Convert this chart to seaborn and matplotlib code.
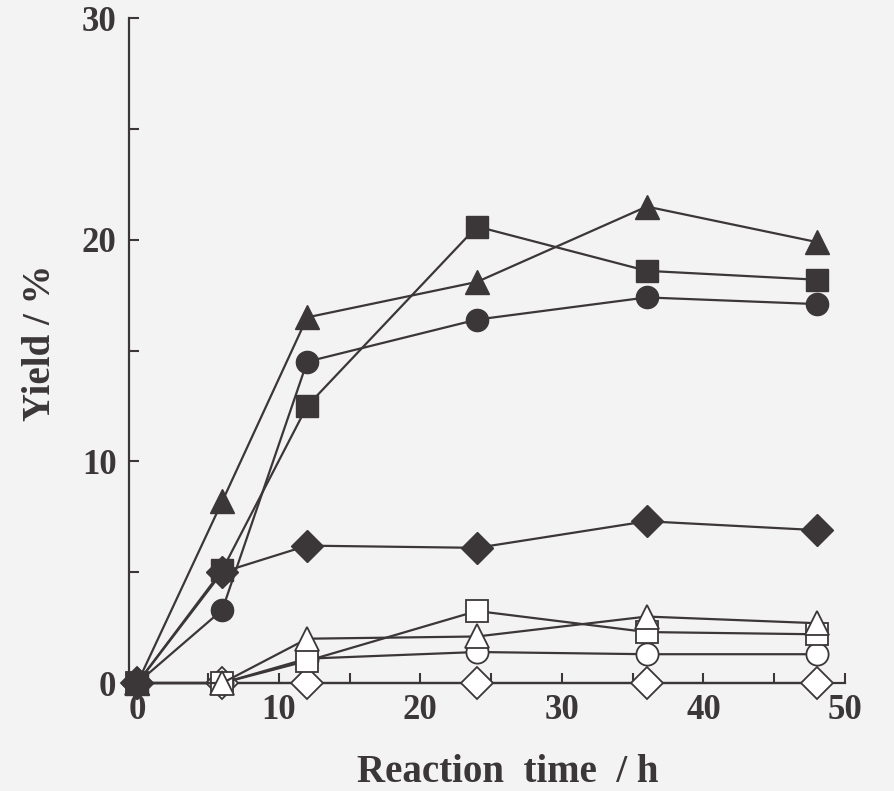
import matplotlib
matplotlib.use("Agg")
import matplotlib.pyplot as plt
import seaborn as sns
import numpy as np

sns.set_style("ticks")
plt.rcParams['font.family'] = ['Liberation Serif', 'DejaVu Serif']

time_h = [0, 6, 12, 24, 36, 48]

filled_triangle = [0, 8.2, 16.5, 18.1, 21.5, 19.9]
filled_square = [0, 5.1, 12.5, 20.6, 18.6, 18.2]
filled_circle = [0, 3.3, 14.5, 16.4, 17.4, 17.1]
filled_diamond = [0, 5.0, 6.2, 6.1, 7.3, 6.9]
open_triangle = [0, 0, 2.0, 2.1, 3.0, 2.7]
open_square = [0, 0, 1.0, 3.25, 2.3, 2.2]
open_circle = [0, 0, 1.1, 1.4, 1.3, 1.3]
open_diamond = [0, 0, 0, 0, 0, 0]

x_ticks = [0, 5, 10, 15, 20, 25, 30, 35, 40, 45, 50]
x_labels = ['0', '', '10', '', '20', '', '30', '', '40', '', '50']
y_ticks = [0, 5, 10, 15, 20, 25, 30]
y_labels = ['0', '', '10', '', '20', '', '30']

ink = '#3b3637'
bg = '#f4f3f3'

series = [
    (open_diamond, 'D', False, 16),
    (open_circle, 'o', False, 16),
    (open_square, 's', False, 16),
    (open_triangle, '^', False, 17),
    (filled_diamond, 'D', True, 16),
    (filled_circle, 'o', True, 16),
    (filled_square, 's', True, 16),
    (filled_triangle, '^', True, 17),
]

fig = plt.figure(figsize=(8.95, 7.91), dpi=100, facecolor=bg)
ax = fig.add_axes([0.144, 0.1365, 0.8, 0.8405])
ax.set_facecolor(bg)

for i, (vals, mk, filled, ms) in enumerate(series):
    sns.lineplot(x=time_h, y=vals, ax=ax, color=ink, linewidth=1.6,
                 marker=mk, markersize=ms,
                 markerfacecolor=ink if filled else 'white',
                 markeredgecolor=ink, markeredgewidth=1.3 if not filled else 1.0,
                 clip_on=False, zorder=3 + i)

ax.set_xlim(-0.6, 50)
ax.set_ylim(0, 30)
ax.set_xticks(x_ticks)
ax.set_xticklabels(x_labels)
ax.set_yticks(y_ticks)
ax.set_yticklabels(y_labels)
ax.tick_params(direction='in', length=7, width=1.5, colors=ink, labelsize=25)
ax.tick_params(axis='x', pad=8)
ax.tick_params(axis='y', pad=9)
for lab in ax.get_xticklabels() + ax.get_yticklabels():
    lab.set_fontweight('bold')
    lab.set_color(ink)
sns.despine(ax=ax)
for s in ['left', 'bottom']:
    ax.spines[s].set_linewidth(1.6)
    ax.spines[s].set_color(ink)

ax.set_xlabel('Reaction  time  / h', fontsize=28, fontweight='bold', color=ink, va='center')
ax.xaxis.set_label_coords(0.529, -0.134)
ax.set_ylabel('Yield / %', fontsize=28, fontweight='bold', color=ink, va='center')
ax.yaxis.set_label_coords(-0.124, 0.511)

fig.savefig('out.png', dpi=100, facecolor=bg)
